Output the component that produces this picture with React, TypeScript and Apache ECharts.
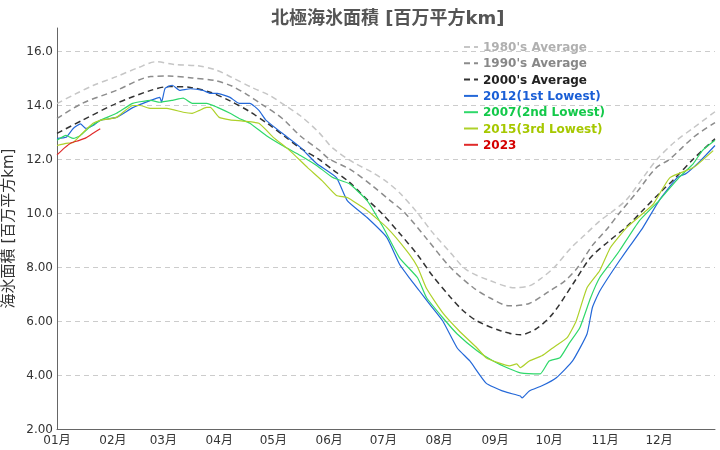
import React, { useEffect, useRef } from "react";
import * as echarts from "echarts";

const MONTH_STARTS = [0, 31, 59, 90, 120, 151, 181, 212, 243, 273, 304, 334];
const MONTH_LABELS = ["01月", "02月", "03月", "04月", "05月", "06月", "07月", "08月", "09月", "10月", "11月", "12月"];

const SERIES_NAMES = ["1980's Average", "1990's Average", "2000's Average", "2012(1st Lowest)", "2007(2nd Lowest)", "2015(3rd Lowest)", "2023"];

// [day of year, extent (million km2)]
const AVG_1980 = [
  [0, 14.05], [10, 14.4], [20, 14.72], [33, 15.05], [45, 15.38], [55, 15.6], [65, 15.5], [78, 15.45], [88, 15.3],
  [97, 15.02], [108, 14.65], [118, 14.35], [125, 14.05], [135, 13.6], [145, 13.0], [153, 12.4], [165, 11.85],
  [175, 11.5], [183, 11.15], [190, 10.75], [200, 10.0], [208, 9.3], [218, 8.55], [227, 7.9], [240, 7.5],
  [254, 7.23], [262, 7.3], [268, 7.55], [276, 8.0], [285, 8.7], [293, 9.2], [301, 9.7], [308, 10.05],
  [316, 10.5], [325, 11.3], [333, 12.0], [343, 12.65], [353, 13.15], [365, 13.75],
];
const AVG_1990 = [
  [0, 13.5], [14, 14.06], [33, 14.54], [52, 15.05], [62, 15.07], [75, 15.0], [88, 14.9], [97, 14.7], [105, 14.4],
  [113, 14.05], [125, 13.5], [135, 12.85], [145, 12.35], [151, 12.0], [163, 11.6], [175, 11.0], [185, 10.45],
  [193, 10.0], [205, 9.05], [218, 8.0], [231, 7.23], [240, 6.86], [251, 6.56], [262, 6.65], [273, 7.1],
  [282, 7.5], [289, 8.0], [297, 8.8], [305, 9.4], [312, 10.0], [322, 10.8], [332, 11.65], [340, 12.0],
  [353, 12.8], [365, 13.35],
];
const AVG_2000 = [
  [0, 12.95], [14, 13.43], [33, 14.06], [52, 14.54], [62, 14.68], [74, 14.65], [85, 14.47], [96, 14.15],
  [107, 13.75], [117, 13.3], [126, 12.85], [135, 12.4], [145, 12.0], [153, 11.6], [162, 11.15], [172, 10.5],
  [180, 10.0], [190, 9.25], [200, 8.45], [208, 7.7], [218, 6.9], [225, 6.4], [233, 6.0], [246, 5.64],
  [257, 5.49], [266, 5.72], [275, 6.27], [286, 7.35], [296, 8.35], [306, 8.95], [316, 9.5], [325, 10.1],
  [334, 10.72], [343, 11.3], [353, 12.0], [365, 12.75],
];
const Y2012 = [
  [0, 12.76], [5, 12.8], [9, 13.13], [13, 13.3], [16, 13.13], [20, 13.24], [24, 13.43], [33, 13.54], [42, 13.9],
  [52, 14.17], [57, 14.28], [58, 14.1], [60, 14.62], [64, 14.73], [68, 14.54], [74, 14.6], [81, 14.54],
  [85, 14.43], [89, 14.43], [96, 14.28], [101, 14.06], [107, 14.06], [112, 13.8], [116, 13.43], [125, 12.95],
  [135, 12.43], [144, 11.83], [155, 11.31], [161, 10.46], [172, 9.83], [183, 9.09], [190, 8.1], [196, 7.55],
  [201, 7.12], [207, 6.6], [214, 6.0], [222, 5.0], [229, 4.52], [238, 3.7], [247, 3.41], [257, 3.22],
  [258, 3.15], [262, 3.41], [269, 3.6], [277, 3.9], [286, 4.52], [294, 5.52], [297, 6.5], [301, 7.1],
  [312, 8.23], [325, 9.46], [334, 10.46], [344, 11.31], [349, 11.46], [357, 11.94], [365, 12.5],
];
const Y2007 = [
  [0, 12.69], [5, 12.87], [9, 12.76], [13, 12.87], [18, 13.17], [24, 13.43], [33, 13.69], [42, 14.06],
  [52, 14.17], [57, 14.1], [64, 14.17], [70, 14.25], [75, 14.06], [83, 14.06], [89, 13.91], [96, 13.69],
  [101, 13.5], [107, 13.32], [116, 12.87], [125, 12.5], [135, 12.13], [144, 11.76], [153, 11.31],
  [162, 11.09], [172, 10.46], [181, 9.46], [190, 8.34], [200, 7.6], [205, 6.86], [214, 6.12], [222, 5.52],
  [233, 4.9], [242, 4.52], [251, 4.23], [257, 4.08], [268, 4.04], [273, 4.52], [279, 4.64], [284, 5.16],
  [290, 5.75], [296, 6.86], [301, 7.6], [308, 8.23], [312, 8.6], [323, 9.71], [334, 10.46], [345, 11.31],
  [353, 11.83], [358, 12.31], [365, 12.69],
];
const Y2015 = [
  [0, 12.5], [5, 12.58], [9, 12.61], [14, 12.95], [20, 13.32], [24, 13.43], [33, 13.54], [42, 13.98],
  [46, 13.98], [52, 13.87], [61, 13.87], [70, 13.73], [75, 13.69], [79, 13.8], [83, 13.91], [85, 13.91],
  [90, 13.54], [96, 13.45], [103, 13.4], [112, 13.32], [120, 12.8], [129, 12.32], [139, 11.68], [147, 11.2],
  [155, 10.65], [161, 10.57], [172, 10.09], [183, 9.46], [194, 8.6], [200, 8.0], [205, 7.2], [214, 6.3],
  [223, 5.64], [233, 5.0], [238, 4.64], [245, 4.45], [251, 4.34], [255, 4.41], [257, 4.27], [262, 4.52],
  [269, 4.71], [275, 5.0], [283, 5.38], [288, 6.0], [294, 7.23], [301, 7.86], [307, 8.72], [316, 9.46],
  [325, 9.98], [331, 10.35], [340, 11.31], [353, 11.68], [364, 12.31],
];
const Y2023 = [
  [0, 12.15], [4, 12.4], [8, 12.6], [12, 12.68], [16, 12.78], [20, 12.95], [24, 13.12],
];

const FONT = "'DejaVu Sans', 'Noto Sans CJK JP', sans-serif";

export default function App() {
  const ref = useRef<HTMLDivElement>(null);
  useEffect(() => {
    const chart = echarts.init(ref.current as HTMLDivElement, null, { renderer: "svg" });
    const dashed = (name: string, data: number[][], color: string) => ({
      name, type: "line", data, symbol: "none", smooth: 0.3,
      lineStyle: { color, width: 1.5, type: [6, 4] }, itemStyle: { color },
    });
    const solid = (name: string, data: number[][], color: string) => ({
      name, type: "line", data, symbol: "none", smooth: 0.15,
      lineStyle: { color, width: 1.2 }, itemStyle: { color },
    });
    const lineColors = ["#c6c6c6", "#8c8c8c", "#333333", "#2468d8", "#2fd86a", "#aed12a", "#e02a2a"];
    const textColors = ["#b0b0b0", "#888888", "#222222", "#1a5fd6", "#13c94a", "#a6c800", "#d40000"];
    chart.setOption({
      animation: false,
      textStyle: { fontFamily: FONT },
      title: {
        text: "北極海氷面積 [百万平方km]",
        left: 266,
        top: 3,
        textStyle: { fontSize: 18, fontWeight: "bold", color: "#555555", fontFamily: FONT },
      },
      grid: { left: 57, right: 5, top: 28, bottom: 21, containLabel: false, outerBoundsMode: "none" },
      legend: {
        orient: "vertical",
        left: 463,
        top: 41,
        padding: 0,
        itemWidth: 14,
        itemHeight: 10,
        itemGap: 4.3,
        itemStyle: { opacity: 0, borderWidth: 0 },
        textStyle: { fontWeight: "bold", fontSize: 12, fontFamily: FONT },
        data: SERIES_NAMES.map((n, i) => ({ name: n, textStyle: { color: textColors[i] } })),
      },
      xAxis: {
        type: "value",
        min: 0,
        max: 365,
        axisLine: { show: true, lineStyle: { color: "#666666" } },
        axisTick: { show: false },
        splitLine: { show: false },
        axisLabel: {
          customValues: MONTH_STARTS,
          formatter: (v: number) => MONTH_LABELS[MONTH_STARTS.indexOf(v)] ?? "",
          color: "#333333",
          fontSize: 12,
          margin: 5,
          fontFamily: FONT,
        },
      },
      yAxis: {
        type: "value",
        min: 2,
        max: 16.85,
        interval: 2,
        name: "海氷面積 [百万平方km]",
        nameLocation: "middle",
        nameGap: 35,
        nameTextStyle: { fontSize: 15, color: "#333333", fontFamily: FONT },
        axisLine: { show: true, lineStyle: { color: "#666666" } },
        axisTick: { show: false },
        splitLine: { show: true, showMaxLine: false, lineStyle: { color: "#cccccc", type: [5, 4] } },
        axisLabel: {
          color: "#333333",
          fontSize: 12,
          margin: 4,
          fontFamily: FONT,
          formatter: (v: number) => (Math.abs(v / 2 - Math.round(v / 2)) < 1e-6 ? v.toPrecision(3) : ""),
        },
      },
      series: [
        dashed(SERIES_NAMES[0], AVG_1980, lineColors[0]),
        dashed(SERIES_NAMES[1], AVG_1990, lineColors[1]),
        dashed(SERIES_NAMES[2], AVG_2000, lineColors[2]),
        solid(SERIES_NAMES[3], Y2012, lineColors[3]),
        solid(SERIES_NAMES[4], Y2007, lineColors[4]),
        solid(SERIES_NAMES[5], Y2015, lineColors[5]),
        solid(SERIES_NAMES[6], Y2023, lineColors[6]),
      ],
    });
    return () => chart.dispose();
  }, []);
  return <div ref={ref} style={{ position: "fixed", left: 0, top: 0, width: 720, height: 450 }} />;
}
